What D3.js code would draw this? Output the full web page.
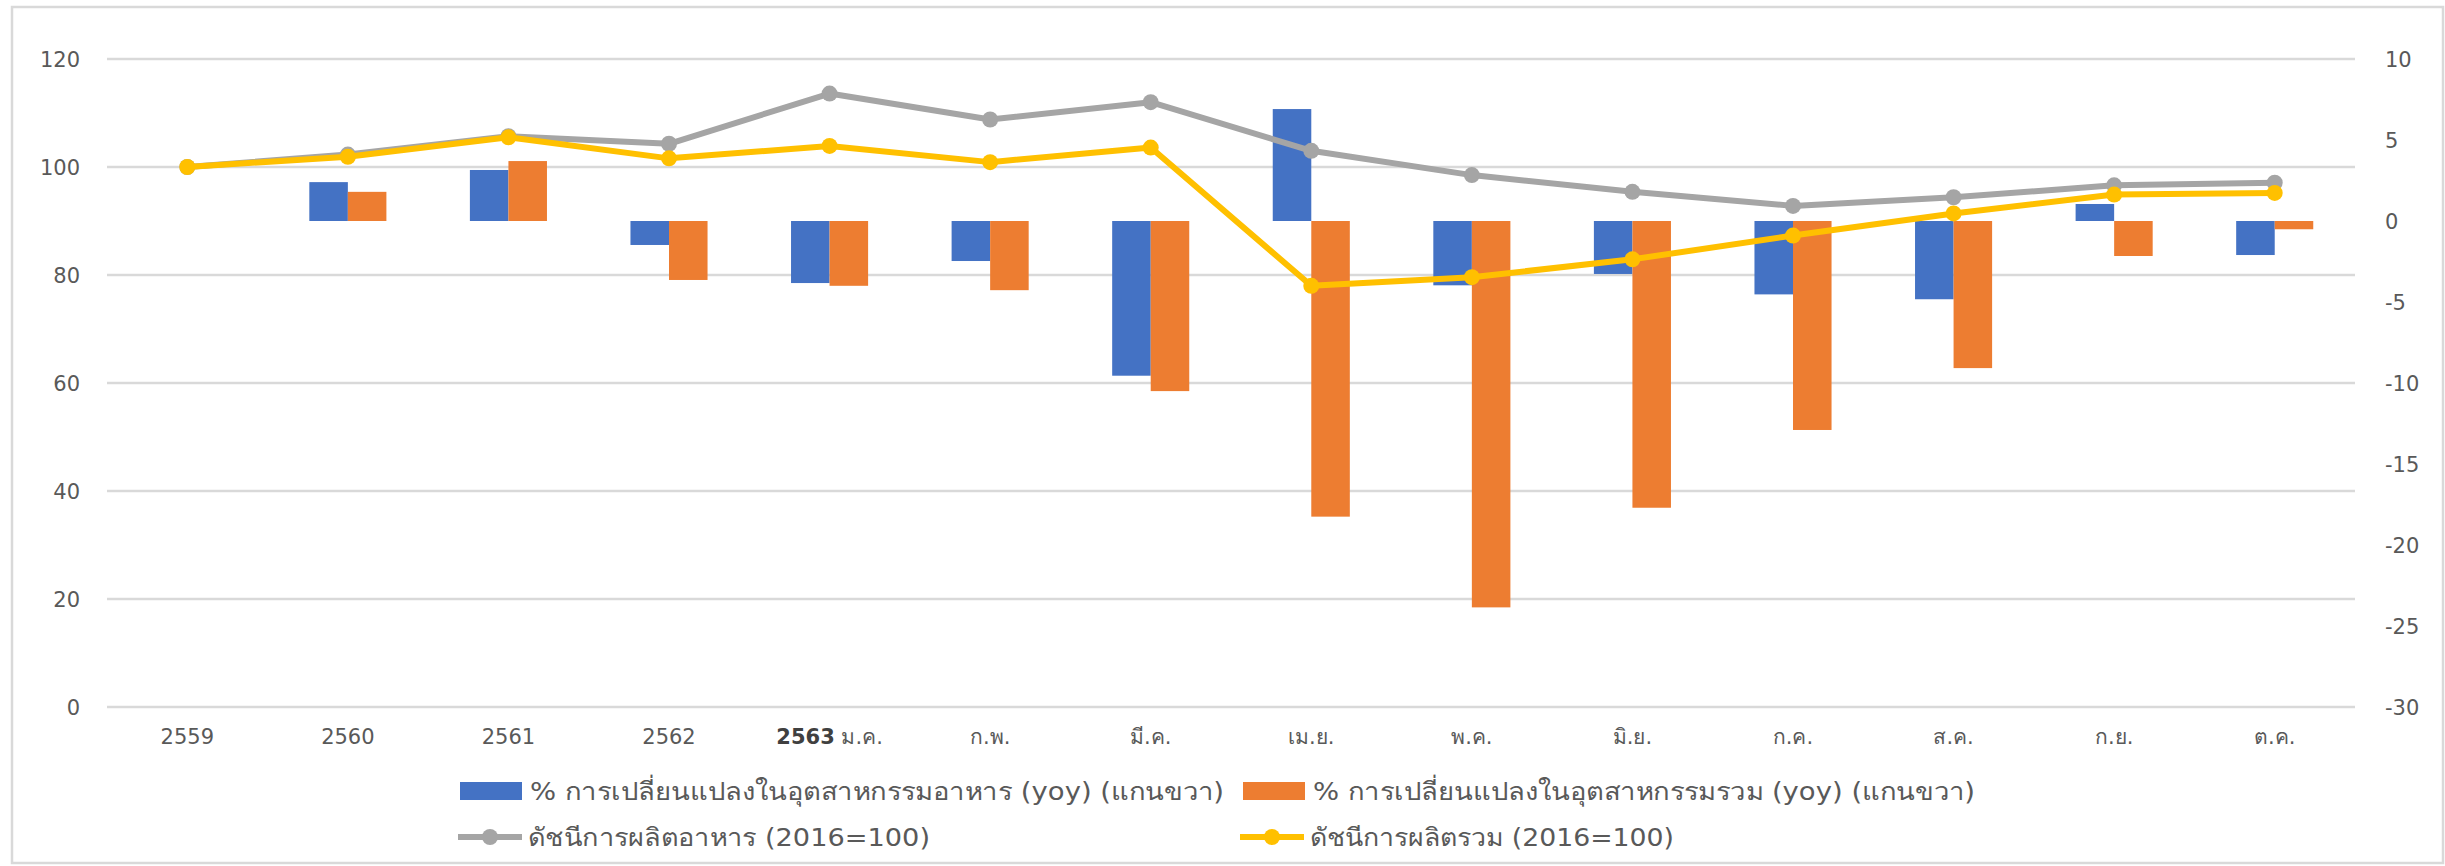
<!DOCTYPE html>
<html>
<head>
<meta charset="utf-8">
<script src="https://cdnjs.cloudflare.com/ajax/libs/d3/7.8.5/d3.min.js"></script>
<style>
  body { margin: 0; background: #fff; }
  text { font-family: "DejaVu Sans", "Noto Sans", sans-serif; fill: #595959; }
</style>
</head>
<body>
<div class="chart"></div>
<script>
'use strict';
// categories (Thai years / months of 2563)
var categories = ["2559","2560","2561","2562","2563 ม.ค.","ก.พ.","มี.ค.","เม.ย.","พ.ค.","มิ.ย.","ก.ค.","ส.ค.","ก.ย.","ต.ค."];
// % change yoy, right axis
var foodYoy  = [null, 2.4, 3.15, -1.48, -3.83, -2.47, -9.55, 6.91, -3.97, -3.27, -4.53, -4.83, 1.05, -2.1];
var totalYoy = [null, 1.8, 3.7, -3.64, -4.0, -4.27, -10.5, -18.25, -23.85, -17.7, -12.9, -9.08, -2.16, -0.51];
// production index (2016=100), left axis
var foodIndex  = [100, 102.3, 105.7, 104.3, 113.6, 108.8, 112.0, 103.0, 98.5, 95.4, 92.8, 94.4, 96.6, 97.1];
var totalIndex = [100, 101.9, 105.5, 101.6, 103.9, 100.9, 103.6, 78.0, 79.6, 82.9, 87.3, 91.4, 94.9, 95.2];
var leftTicks = [0, 20, 40, 60, 80, 100, 120];
var rightTicks = [10, 5, 0, -5, -10, -15, -20, -25, -30];
var legendLabels = ["% การเปลี่ยนแปลงในอุตสาหกรรมอาหาร (yoy) (แกนขวา)", "% การเปลี่ยนแปลงในอุตสาหกรรมรวม (yoy) (แกนขวา)",
                    "ดัชนีการผลิตอาหาร (2016=100)", "ดัชนีการผลิตรวม (2016=100)"];

var W = 2445, H = 866;
var plot = {left: 107, right: 2355, top: 59, bottom: 707};
var colors = {blue: "#4472C4", orange: "#ED7D31", gray: "#A5A5A5", yellow: "#FFC000"};

var svg = d3.select(".chart").append("svg")
  .attr("width", W).attr("height", H);

// outer frame
svg.append("rect")
  .attr("x", 12).attr("y", 7).attr("width", W - 14).attr("height", H - 10)
  .attr("fill", "none").attr("stroke", "#d9d9d9").attr("stroke-width", 2.5);

var xScale = d3.scaleBand()
  .domain(categories)
  .range([plot.left, plot.right])
  .paddingInner(0.52).paddingOuter(0.26);

var xSub = d3.scaleBand()
  .domain(["food", "total"])
  .range([0, xScale.bandwidth()]);

var yLeft = d3.scaleLinear().domain([0, 120]).range([plot.bottom, plot.top]);
var yRight = d3.scaleLinear().domain([-30, 10]).range([plot.bottom, plot.top]);

// gridlines
svg.append("g").selectAll("line")
  .data(leftTicks).enter().append("line")
  .attr("x1", plot.left).attr("x2", plot.right)
  .attr("y1", d => yLeft(d)).attr("y2", d => yLeft(d))
  .attr("stroke", "#d9d9d9").attr("stroke-width", 2.5);

// left axis
var leftAxis = d3.axisLeft(yLeft).tickValues(leftTicks).tickSize(0).tickPadding(0);
var gl = svg.append("g")
  .attr("transform", "translate(" + 80 + ",0)")
  .call(leftAxis);
gl.select(".domain").remove();
gl.selectAll("text").attr("font-size", 21).attr("dy", "0.35em").style("fill", "#595959");

// right axis (plain hyphen for negatives, like the original)
var rightAxis = d3.axisRight(yRight).tickValues(rightTicks).tickSize(0).tickPadding(0)
  .tickFormat(d => String(d));
var gr = svg.append("g")
  .attr("transform", "translate(" + 2385 + ",0)")
  .call(rightAxis);
gr.select(".domain").remove();
gr.selectAll("text").attr("font-size", 21).attr("dy", "0.35em").style("fill", "#595959");

// x labels
var xl = svg.append("g").selectAll("text")
  .data(categories).enter().append("text")
  .attr("x", d => xScale(d) + xScale.bandwidth() / 2)
  .attr("y", 744)
  .attr("text-anchor", "middle")
  .attr("font-size", 21);
xl.each(function(d) {
  var t = d3.select(this);
  if (d.indexOf("2563") === 0) {
    t.append("tspan").text("2563").attr("font-weight", "bold").style("fill", "#404040");
    t.append("tspan").text(d.slice(4));
  } else {
    t.text(d);
  }
});

// bars
function drawBars(values, key, color) {
  svg.append("g").selectAll("rect")
    .data(categories.map((c, i) => ({c: c, v: values[i]})).filter(d => d.v !== null))
    .enter().append("rect")
    .attr("x", d => xScale(d.c) + xSub(key))
    .attr("width", xSub.bandwidth())
    .attr("y", d => yRight(Math.max(0, d.v)))
    .attr("height", d => Math.abs(yRight(d.v) - yRight(0)))
    .attr("fill", color);
}
drawBars(foodYoy, "food", colors.blue);
drawBars(totalYoy, "total", colors.orange);

// lines
var line = d3.line()
  .x(d => xScale(d.c) + xScale.bandwidth() / 2)
  .y(d => yLeft(d.v));

function drawLine(values, color) {
  var pts = categories.map((c, i) => ({c: c, v: values[i]}));
  svg.append("path")
    .datum(pts)
    .attr("d", line)
    .attr("fill", "none").attr("stroke", color)
    .attr("stroke-width", 6).attr("stroke-linejoin", "round");
  svg.append("g").selectAll("circle")
    .data(pts).enter().append("circle")
    .attr("cx", d => xScale(d.c) + xScale.bandwidth() / 2)
    .attr("cy", d => yLeft(d.v))
    .attr("r", 8)
    .attr("fill", color);
}
drawLine(foodIndex, colors.gray);
drawLine(totalIndex, colors.yellow);

// legend
var legend = svg.append("g");
var legendPos = [
  {x: 460, y: 791, type: "rect", color: colors.blue, w: 694},
  {x: 1243, y: 791, type: "rect", color: colors.orange, w: 662},
  {x: 458, y: 837, type: "line", color: colors.gray, w: 402},
  {x: 1240, y: 837, type: "line", color: colors.yellow, w: 364}
];
legendPos.forEach(function(p, i) {
  if (p.type === "rect") {
    legend.append("rect").attr("x", p.x).attr("y", p.y - 9).attr("width", 62).attr("height", 18).attr("fill", p.color);
  } else {
    legend.append("line").attr("x1", p.x).attr("x2", p.x + 64).attr("y1", p.y).attr("y2", p.y)
      .attr("stroke", p.color).attr("stroke-width", 6);
    legend.append("circle").attr("cx", p.x + 32).attr("cy", p.y).attr("r", 8).attr("fill", p.color);
  }
  legend.append("text")
    .attr("x", p.x + 70).attr("y", p.y)
    .attr("dy", "0.35em")
    .attr("font-size", 25)
    .attr("textLength", p.w)
    .attr("lengthAdjust", "spacingAndGlyphs")
    .text(legendLabels[i]);
});
</script>
</body>
</html>
